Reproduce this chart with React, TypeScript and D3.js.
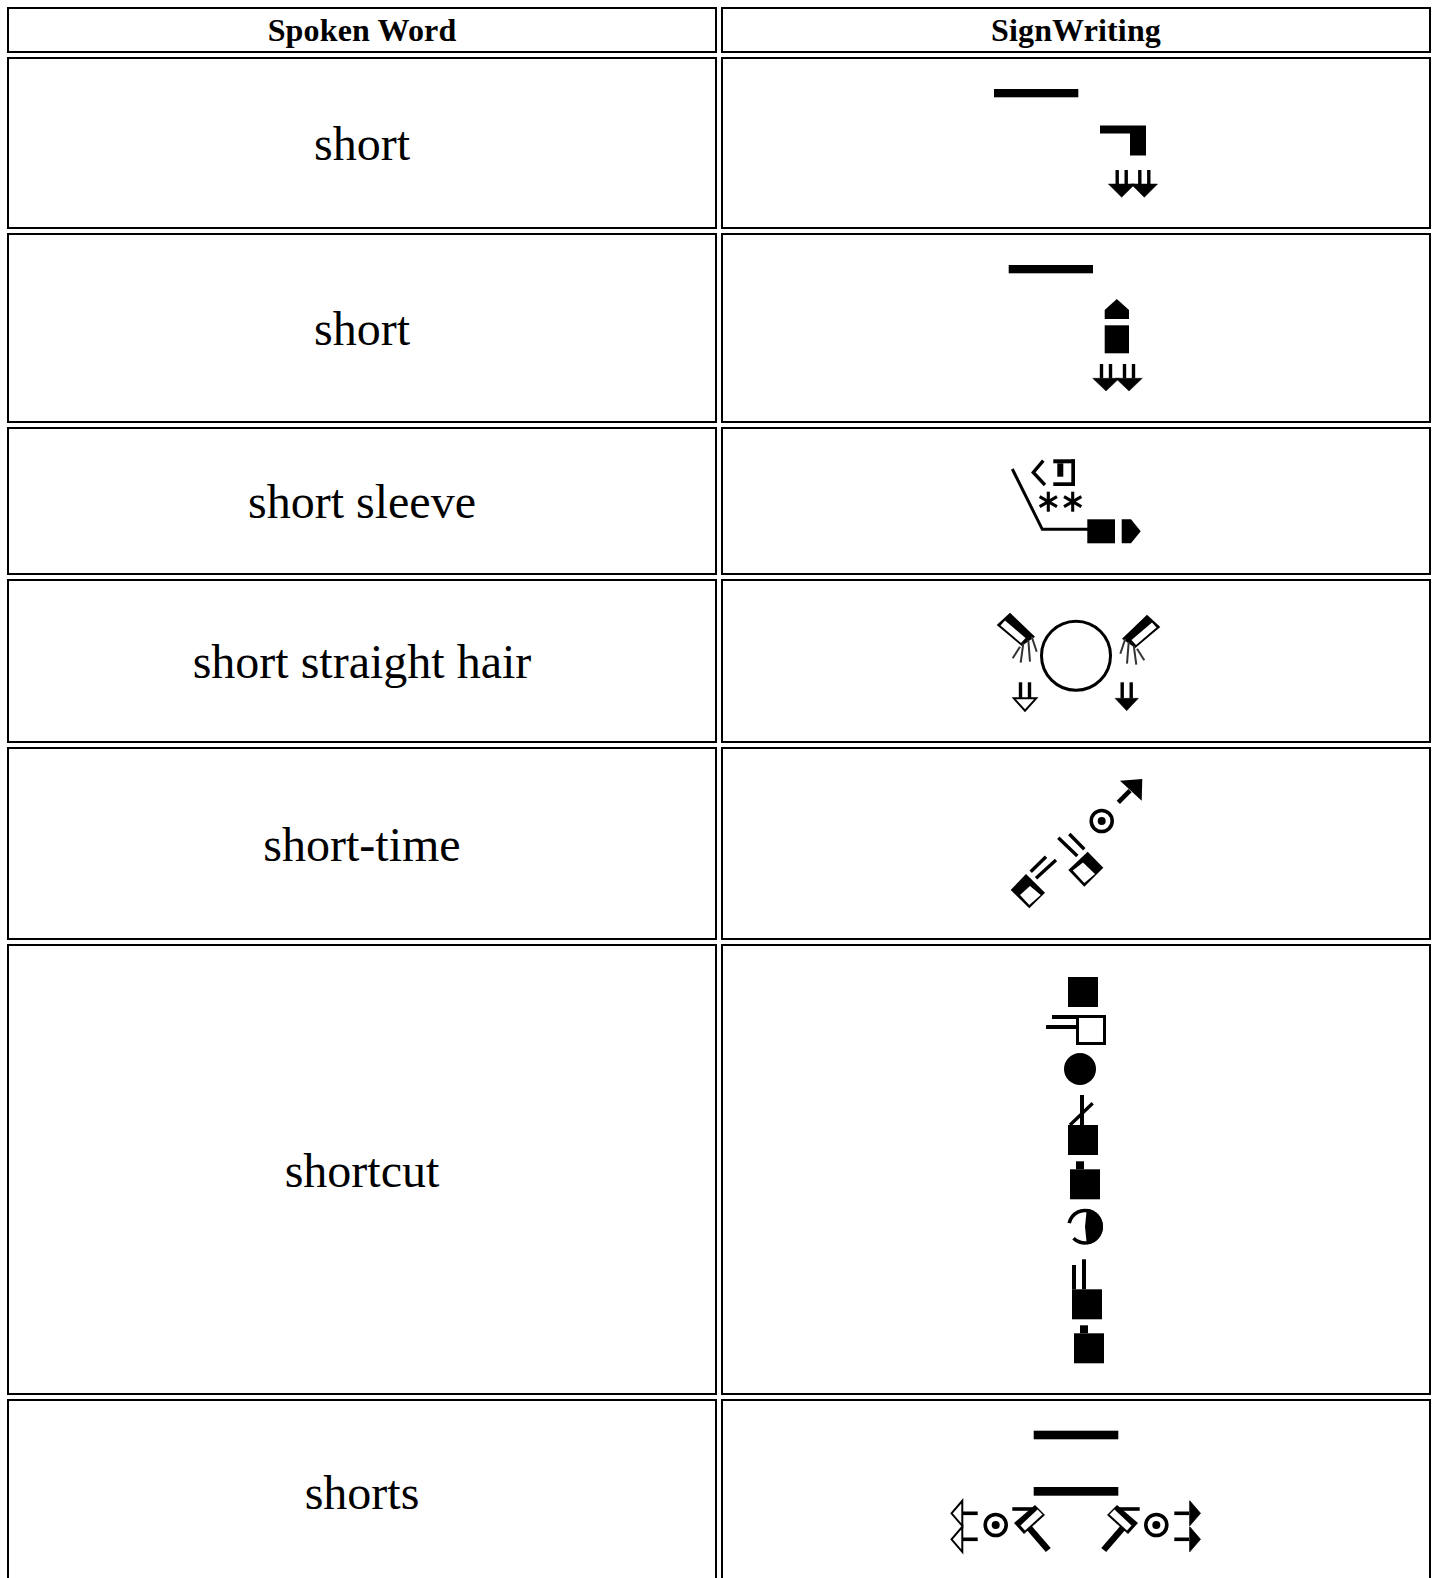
import * as d3 from 'd3';

const headers = ['Spoken Word', 'SignWriting'];
const words = ['short', 'short', 'short sleeve', 'short straight hair', 'short-time', 'shortcut', 'shorts'];
const headerHeight = 46;
const rowHeights = [172, 190, 148, 164, 193, 451, 186];

const W = 1435;
const H = 1578;
const GAP = 4;
const TOP = 7;

const col = d3.scaleBand<string>().domain(headers).range([7, 1431]).paddingInner(GAP / 714);
const rowTop = (i: number) => TOP + headerHeight + GAP + d3.sum(rowHeights.slice(0, i)) + i * GAP;

type Pt = [number, number];
const line = d3.line();
const closed = (pts: Pt[]) => line(pts) + 'Z';

const Fill = ({ pts, color = '#000' }: { pts: Pt[]; color?: string }) => <path d={closed(pts)} fill={color} />;
const Stroke = ({ pts, w = 3.4, color = '#000' }: { pts: Pt[]; w?: number; color?: string }) => (
  <path d={line(pts)!} fill="none" stroke={color} strokeWidth={w} />
);
const Box = ({ x0, y0, x1, y1 }: { x0: number; y0: number; x1: number; y1: number }) => (
  <rect x={x0} y={y0} width={x1 - x0} height={y1 - y0} fill="#000" />
);

// contact ring with a dot in the middle
const Ring = ({ cx, cy }: { cx: number; cy: number }) => (
  <g>
    <circle cx={cx} cy={cy} r={10.5} fill="none" stroke="#000" strokeWidth={3.6} />
    <circle cx={cx} cy={cy} r={4} fill="#000" />
  </g>
);

const DownArrow = ({ cx, top, head, tip, half, stem, hollow = false }: {
  cx: number; top: number; head: number; tip: number; half: number; stem: number; hollow?: boolean;
}) => (
  <g>
    <Stroke pts={[[cx - stem, top], [cx - stem, head]]} w={3.4} />
    <Stroke pts={[[cx + stem, top], [cx + stem, head]]} w={3.4} />
    <path
      d={closed([[cx - half, head], [cx + half, head], [cx, tip]])}
      fill={hollow ? '#fff' : '#000'}
      stroke="#000"
      strokeWidth={hollow ? 2 : 0.5}
    />
  </g>
);

const Asterisk = ({ cx, cy, r }: { cx: number; cy: number; r: number }) => (
  <g>
    {[0, 60, 120].map(a => {
      const t = (a * Math.PI) / 180;
      const dx = Math.sin(t) * r;
      const dy = Math.cos(t) * r;
      return <Stroke key={a} pts={[[cx - dx, cy - dy], [cx + dx, cy + dy]]} w={3.1} />;
    })}
  </g>
);

// square fist with a small knob on top
const Knobbed = ({ x, y }: { x: number; y: number }) => (
  <g>
    <Box x0={x + 6} y0={y - 8} x1={x + 14} y1={y} />
    <Box x0={x} y0={y} x1={x + 30} y1={y + 30} />
  </g>
);

const FingerHand = () => (
  <g>
    <Fill pts={[[1010, 612.7], [1035, 636.7], [1021.7, 646], [996.7, 625]]} />
    <Fill pts={[[1000.5, 625.5], [1021, 643], [1025.5, 638], [1005, 620.5]]} color="#fff" />
    <g stroke="#333" strokeWidth={2}>
      <line x1={1031.7} y1={636.7} x2={1036.7} y2={651.7} />
      <line x1={1028.3} y1={640} x2={1030} y2={661.7} />
      <line x1={1023.3} y1={643.3} x2={1020.7} y2={662.7} />
      <line x1={1020} y1={646.7} x2={1012.7} y2={658.3} />
    </g>
  </g>
);

const ShortsArm = () => (
  <g>
    <Stroke pts={[[1026.7, 1525], [1048.3, 1550]]} w={6.5} />
    <Fill pts={[[1035, 1505], [1045, 1515], [1024, 1534], [1014, 1523]]} />
    <Fill pts={[[1042.5, 1514.5], [1025, 1530.5], [1020.5, 1525.5], [1037.5, 1509.5]]} color="#fff" />
    <Stroke pts={[[1012.3, 1509], [1033, 1509]]} w={3.6} />
    <Ring cx={995.7} cy={1525} />
  </g>
);

const SideArrows = ({ hollow }: { hollow: boolean }) => (
  <g>
    {[1513.3, 1539.3].map(y => (
      <g key={y}>
        <Stroke pts={[[963, y], [977.7, y]]} w={3.6} />
        <path
          d={closed([[951.5, y], [962.3, y - 12.5], [962.3, y + 12.5]])}
          fill={hollow ? '#fff' : '#000'}
          stroke="#000"
          strokeWidth={hollow ? 2 : 0.8}
        />
      </g>
    ))}
  </g>
);

const halfMoon = d3.arc();

const Glyphs = () => (
  <g filter="url(#soft)">
    {/* short (1) */}
    <Box x0={994} y0={89} x1={1078.3} y1={97.3} />
    <Fill pts={[[1100, 125.5], [1146, 125.5], [1146, 155.5], [1130, 155.5], [1130, 133.5], [1100, 133.5]]} />
    <DownArrow cx={1121.7} top={170} head={184} tip={197.3} half={13.3} stem={4.5} />
    <DownArrow cx={1144.3} top={170} head={184} tip={197.3} half={13.3} stem={4.5} />

    {/* short (2) */}
    <Box x0={1008.7} y0={265} x1={1093} y1={273.3} />
    <Fill pts={[[1104.7, 319], [1104.7, 310], [1116.8, 299], [1129, 310], [1129, 319]]} />
    <Box x0={1104.7} y0={325.3} x1={1129} y1={353.3} />
    <DownArrow cx={1106} top={364} head={378.3} tip={391} half={13.3} stem={4.5} />
    <DownArrow cx={1129} top={364} head={378.3} tip={391} half={13.3} stem={4.5} />

    {/* short sleeve */}
    <Stroke pts={[[1012.3, 469], [1042.3, 529.3], [1090, 529.3]]} w={3} />
    <Box x0={1087.3} y0={519.3} x1={1115} y1={543.3} />
    <Fill pts={[[1121.7, 519.3], [1131, 519.3], [1140.7, 531.3], [1131, 543.3], [1121.7, 543.3]]} />
    <Stroke pts={[[1043.3, 460.7], [1033.3, 472.5], [1045, 485]]} w={3.4} />
    <Box x0={1053.3} y0={459.3} x1={1075} y1={463.3} />
    <Box x0={1071.3} y0={459.3} x1={1075} y1={486} />
    <Box x0={1053.3} y0={482.3} x1={1075} y1={486} />
    <Box x0={1057.3} y0={463.3} x1={1063.3} y1={476.7} />
    <Asterisk cx={1048.3} cy={501.7} r={10} />
    <Asterisk cx={1072.7} cy={501.7} r={10} />

    {/* short straight hair */}
    <circle cx={1076} cy={655.7} r={34.5} fill="none" stroke="#000" strokeWidth={3} />
    <FingerHand />
    <g transform="translate(2157,2) scale(-1,1)">
      <FingerHand />
    </g>
    <DownArrow cx={1025} top={682.3} head={698.3} tip={710.7} half={11.2} stem={4.5} hollow />
    <DownArrow cx={1126.7} top={682.3} head={698.3} tip={710.7} half={11.7} stem={4.5} />

    {/* short-time */}
    <Fill pts={[[1142.3, 779], [1120, 780.7], [1141.7, 800.7]]} />
    <Stroke pts={[[1130, 790.7], [1118.3, 802.3]]} w={4.6} />
    <Ring cx={1101.7} cy={821} />
    <Stroke pts={[[1058.3, 837.7], [1077.3, 856]]} />
    <Stroke pts={[[1069.3, 834], [1084.3, 849.3]]} />
    <Fill pts={[[1087.7, 851.7], [1103.3, 867.7], [1084.3, 886.7], [1068.3, 870]]} />
    <Fill pts={[[1072.8, 870.5], [1083, 862.5], [1095, 874], [1084.3, 883]]} color="#fff" />
    <Stroke pts={[[1030.7, 871.7], [1046, 856.7]]} />
    <Stroke pts={[[1036, 878.3], [1056, 860]]} />
    <Fill pts={[[1026, 874], [1045, 892.7], [1029.3, 908.3], [1010.7, 890]]} />
    <Fill pts={[[1030, 886], [1040.7, 895], [1029.3, 905], [1020, 895]]} color="#fff" />

    {/* shortcut */}
    <Box x0={1068} y0={977} x1={1098} y1={1007} />
    <rect x={1077.5} y={1016.5} width={27} height={27} fill="none" stroke="#000" strokeWidth={3} />
    <Box x0={1052} y0={1015} x1={1076} y1={1019} />
    <Box x0={1046} y0={1025} x1={1076} y1={1029} />
    <circle cx={1080} cy={1069} r={16} fill="#000" />
    <Box x0={1080} y0={1095} x1={1084} y1={1125} />
    <Stroke pts={[[1092.7, 1103.3], [1070, 1125]]} w={3.3} />
    <Box x0={1068} y0={1125} x1={1098} y1={1155} />
    <Knobbed x={1070} y={1169.3} />
    <g transform="translate(1085,1226.7)">
      <path
        d={halfMoon({ innerRadius: 14.5, outerRadius: 18, startAngle: (-77 * Math.PI) / 180, endAngle: (225 * Math.PI) / 180 })!}
        fill="#000"
      />
      <path
        d={halfMoon({ innerRadius: 0, outerRadius: 18, startAngle: 0.1, endAngle: Math.PI - 0.1 })!}
        fill="#000"
      />
    </g>
    <Box x0={1072} y0={1265} x1={1076} y1={1289.3} />
    <Box x0={1082} y0={1259.3} x1={1086} y1={1289.3} />
    <Box x0={1072} y0={1289.3} x1={1102} y1={1319.3} />
    <Knobbed x={1074} y={1333.3} />

    {/* shorts */}
    <Box x0={1033.7} y0={1430.7} x1={1118.3} y1={1439.3} />
    <Box x0={1033.7} y0={1487} x1={1118.3} y1={1495.7} />
    <ShortsArm />
    <SideArrows hollow />
    <g transform="translate(2152,0) scale(-1,1)">
      <ShortsArm />
      <SideArrows hollow={false} />
    </g>
  </g>
);

export default function App() {
  return (
    <svg
      width={W}
      height={H}
      viewBox={`0 0 ${W} ${H}`}
      style={{ position: 'absolute', left: 0, top: 0, display: 'block', background: '#fff' }}
    >
      <defs>
        <filter id="soft" x="-5%" y="-5%" width="110%" height="110%">
          <feGaussianBlur stdDeviation={0.45} />
        </filter>
      </defs>
      <g fontFamily="'Liberation Serif', serif" fill="#000" textAnchor="middle">
        {headers.map(h => (
          <g key={h}>
            <rect
              x={col(h)! + 1}
              y={TOP + 1}
              width={col.bandwidth() - 2}
              height={headerHeight - 2}
              fill="none"
              stroke="#000"
              strokeWidth={2}
            />
            <text
              x={col(h)! + col.bandwidth() / 2}
              y={TOP + headerHeight / 2 + 11}
              fontSize={32}
              fontWeight="bold"
              letterSpacing={0.15}
            >
              {h}
            </text>
          </g>
        ))}
        {words.map((w, i) => (
          <g key={i}>
            {headers.map(h => (
              <rect
                key={h}
                x={col(h)! + 1}
                y={rowTop(i) + 1}
                width={col.bandwidth() - 2}
                height={rowHeights[i] - 2}
                fill="none"
                stroke="#000"
                strokeWidth={2}
              />
            ))}
            <text x={col(headers[0])! + col.bandwidth() / 2} y={rowTop(i) + rowHeights[i] / 2 + 17} fontSize={48}>
              {w}
            </text>
          </g>
        ))}
      </g>
      <Glyphs />
    </svg>
  );
}
